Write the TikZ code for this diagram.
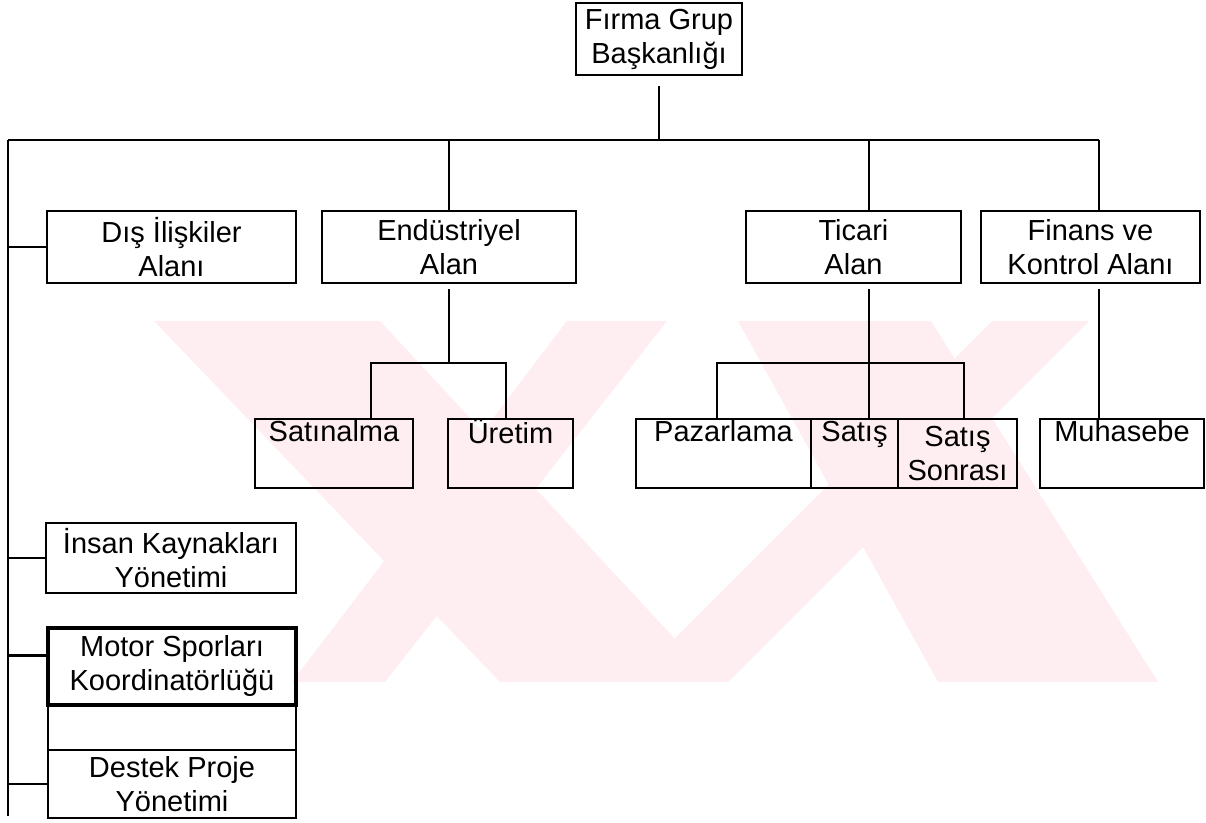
\documentclass[tikz,border=0pt]{standalone}
\usepackage{fontspec}
\setmainfont{Liberation Sans}
\definecolor{wmpink}{RGB}{254,237,241}
\begin{document}
\begin{tikzpicture}[x=0.5pt,y=-0.5pt,line width=1.1pt,
                box/.style={draw, rectangle, inner sep=0pt, align=center,
                  font=\fontsize{14.5}{17}\selectfont},
                row/.style={box, minimum height=36pt},
                sub/.style={box, minimum height=34.5pt},
                left/.style={box, minimum width=124pt}]
  \useasboundingbox (0,0) rectangle (1206,823);

  \fill[wmpink] (154,321) -- (380,321) -- (715,682) -- (500,682) -- cycle;
  \fill[wmpink] (567,321) -- (667,321) -- (385,682) -- (292,682) -- cycle;
  \fill[wmpink] (738,321) -- (931,321) -- (1158,682) -- (938,682) -- cycle;
  \fill[wmpink] (992,321) -- (1089,321) -- (728,682) -- (631,682) -- cycle;

  \node[box, minimum width=83pt, minimum height=36pt] (firma) at (659,39) {Fırma Grup\\Başkanlığı};

  \node[row, minimum width=124.5pt] (dis) at (171.5,247) {Dış İlişkiler\\Alanı};
  \node[row, minimum width=127pt] (endu) at (449,247) {Endüstriyel\\Alan};
  \node[row, minimum width=107.5pt] (ticari) at (853.5,247) {Ticari\\Alan};
  \node[row, minimum width=109.5pt] (finans) at (1090.5,247) {Finans ve\\Kontrol Alanı};

  \node[sub, minimum width=79pt] (satin) at (334,453.5) {Satınalma\\\strut};
  \node[sub, minimum width=62.5pt] (uretim) at (510.5,453.5) {Üretim\\\strut};
  \node[sub, minimum width=87.5pt] (pazar) at (723.5,453.5) {Pazarlama\\\strut};
  \node[sub, minimum width=43.5pt] (satis) at (854.5,453.5) {Satış\\\strut};
  \node[sub, minimum width=59.5pt] (sonra) at (957.5,453.5) {Satış\\Sonrası};
  \node[sub, minimum width=82pt] (muhasebe) at (1122,453.5) {Muhasebe\\\strut};

  \node[left, minimum width=125pt, minimum height=35pt] (insan) at (171,558) {İnsan Kaynakları\\Yönetimi};
  \node[left, minimum height=38.5pt, line width=1.6pt] (motor) at (172,666.5) {Motor Sporları\\Koordinatörlüğü};
  \node[left, minimum height=22.5pt] (bos) at (172,727.5) {};
  \node[left, minimum height=34pt] (destek) at (172,784) {Destek Proje\\Yönetimi};

  \coordinate (bL) at (8,140);
  \coordinate (bR) at (1099,140);
  \coordinate (jE) at (449,140);
  \coordinate (jT) at (869,140);
  \coordinate (tE) at (8,816);
  \coordinate (eL) at (371,363);
  \coordinate (eR) at (506,363);
  \coordinate (tL) at (717,363);
  \coordinate (tR) at (964,363);

  \draw[shorten <=5pt] (firma.south) -- (firma |- bL);
  \draw (bL) -- (bR);
  \draw (bL) -- (tE);
  \draw (jE) -- (jE |- endu.north);
  \draw (jT) -- (jT |- ticari.north);
  \draw (bR) -- (bR |- finans.north);

  \draw (bL |- dis.west) -- (dis.west);
  \draw (bL |- insan.west) -- (insan.west);
  \draw (bL |- motor.175) -- (motor.175);
  \draw (bL |- destek.west) -- (destek.west);

  \draw[shorten <=2.5pt] (endu.south) -- (endu.south |- eL);
  \draw (eL |- satin.north) -- (eL) -- (eR) -- (eR |- uretim.north);

  \draw[shorten <=2.5pt] (ticari.south -| jT) -- (jT |- satis.north);
  \draw (tL |- pazar.north) -- (tL) -- (tR) -- (tR |- sonra.north);

  \draw[shorten <=2.5pt] (finans.south -| bR) -- (bR |- muhasebe.north);
\end{tikzpicture}
\end{document}
